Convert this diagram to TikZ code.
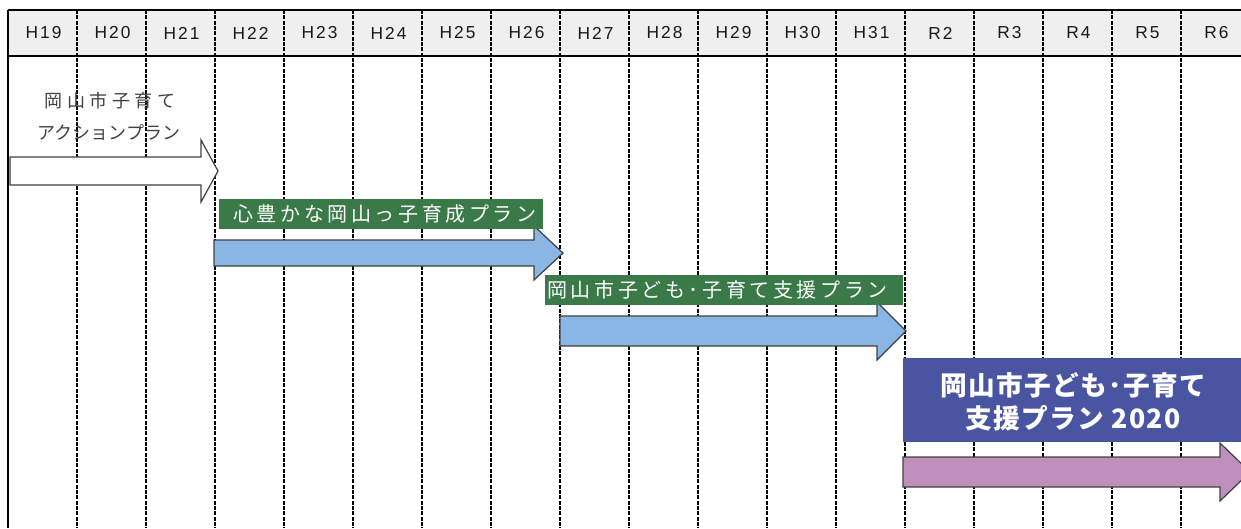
\documentclass[tikz,border=0pt]{standalone}
\usepackage{fontspec}
\newfontfamily\jpfont{Noto Sans CJK JP}
\newfontfamily\hdrfont[LetterSpace=12]{Liberation Sans}
\definecolor{hdrgray}{HTML}{EFEFEF}
\definecolor{plangreen}{HTML}{3A7A48}
\definecolor{planblue}{HTML}{8AB6E6}
\definecolor{plannavy}{HTML}{4A55A2}
\definecolor{planpink}{HTML}{C08EBB}
\definecolor{edgegray}{HTML}{404040}
\begin{document}
\begin{tikzpicture}[x=0.75pt,y=-0.75pt,
  yrlabel/.style={font=\hdrfont\fontsize{13}{15}\selectfont, text=black!90},
  divider/.style={line width=1.1pt, dash pattern=on 3pt off 1pt},
  planarrow/.style={draw=edgegray, line width=0.9pt},
  plantext/.style={text=white, inner sep=0pt,
    font=\jpfont\fontsize{15}{18}\selectfont\addfontfeature{LetterSpace=18}}]
\useasboundingbox (0,0) rectangle (1241,528);
\fill[hdrgray] (8,10) rectangle (1241,56);
\foreach \i in {1,...,17}
  \draw[divider] ({8+69*\i},10) -- ({8+69*\i},528);
\draw[line width=2pt] (8,10) -- (1241,10);
\draw[line width=1.5pt] (8,56) -- (1241,56);
\draw[line width=1.5pt] (8,10) -- (8,528);
\foreach \yr [count=\i from 0] in {H19,H20,H21,H22,H23,H24,H25,H26,H27,H28,H29,H30,H31,R2,R3,R4,R5,R6}
  \node[yrlabel] (yr\i) at ({43.5+69*\i},33) {\yr};

\draw[planarrow, fill=white] (10,157) -- (201,157) -- (201,140) -- (218,171) -- (201,202) -- (201,185) -- (10,185) -- cycle;
\node[text=edgegray, font=\jpfont\fontsize{13.5}{16}\selectfont\addfontfeature{LetterSpace=25}] (action1) at (110,101) {岡山市子育て};
\node[text=edgegray, font=\jpfont\fontsize{13.5}{16}\selectfont] (action2) at (109,133) {アクションプラン};

\draw[planarrow, fill=planblue] (214,240) -- (534,240) -- (534,226) -- (563,253) -- (534,280) -- (534,266) -- (214,266) -- cycle;
\fill[plangreen] (219,199) rectangle (543,229);
\node[plantext] (yutaka) at (385,214) {心豊かな岡山っ子育成プラン};

\draw[planarrow, fill=planblue] (560,316) -- (877,316) -- (877,302) -- (906,331) -- (877,360) -- (877,346) -- (560,346) -- cycle;
\fill[plangreen] (545,275) rectangle (903,305);
\node[plantext, anchor=west] (shien) at (547,290) {岡山市子ども･子育て支援プラン};

\draw[planarrow, fill=planpink] (903,457) -- (1220,457) -- (1220,443) -- (1250,472) -- (1220,501) -- (1220,487) -- (903,487) -- cycle;
\fill[plannavy] (903,358) rectangle (1250,442);
\node[plantext, align=center, font=\jpfont\bfseries\fontsize{20}{25}\selectfont\addfontfeature{LetterSpace=5}] (shien2020) at (1073,402) {岡山市子ども･子育て\\支援プラン 2020};
\end{tikzpicture}
\end{document}
